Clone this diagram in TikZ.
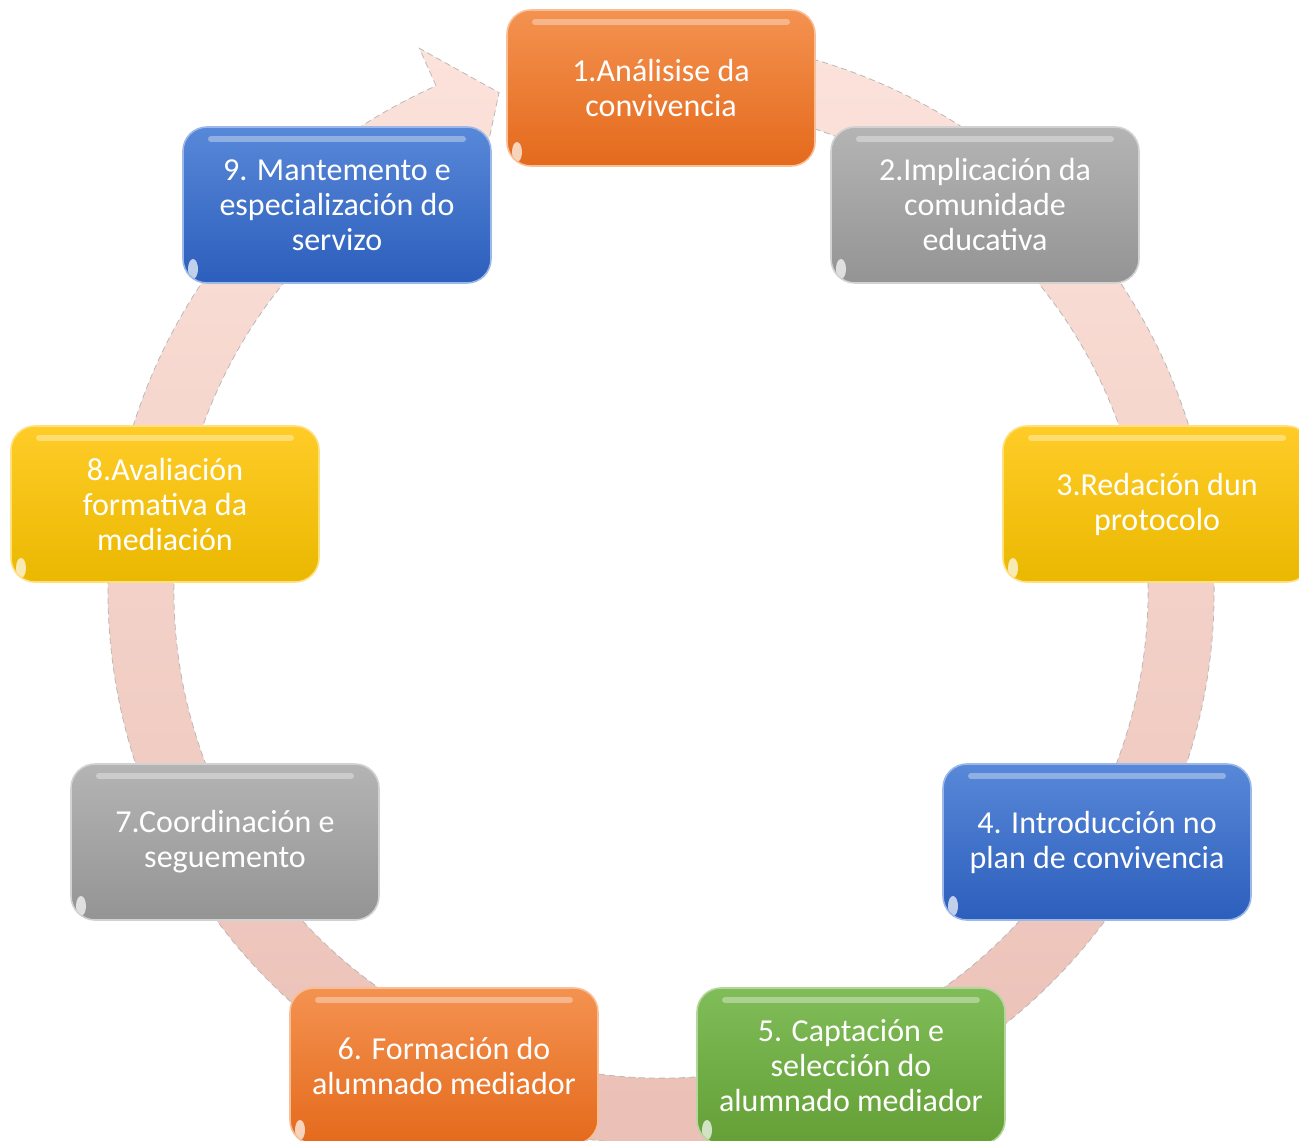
\documentclass[tikz,border=0pt]{standalone}
\usepackage{fontspec}
\setmainfont{Carlito}
\usepackage{tikz}

\definecolor{laranxaA}{RGB}{244,146,80}
\definecolor{laranxaB}{RGB}{228,106,28}
\definecolor{grisA}{RGB}{180,180,180}
\definecolor{grisB}{RGB}{148,148,148}
\definecolor{amareloA}{RGB}{255,204,40}
\definecolor{amareloB}{RGB}{234,184,0}
\definecolor{azulA}{RGB}{88,136,216}
\definecolor{azulB}{RGB}{44,94,188}
\definecolor{verdeA}{RGB}{128,188,88}
\definecolor{verdeB}{RGB}{100,160,54}
\definecolor{rosaA}{RGB}{252,228,220}
\definecolor{rosaB}{RGB}{234,190,180}

\begin{document}
\begin{tikzpicture}[x=0.5pt,y=-0.5pt,
    paso/.style={rounded corners=12pt, minimum width=154pt, minimum height=78pt,
        inner sep=2pt, align=center, text=white, line width=0.8pt,
        font=\fontsize{16}{17.5}\selectfont,
        path picture={
            \draw[white,opacity=.35,line width=3pt,line cap=round]
                ([xshift=14pt,yshift=-6pt]path picture bounding box.north west) --
                ([xshift=-14pt,yshift=-6pt]path picture bounding box.north east);
            \fill[white,opacity=.7]
                ([shift={(5pt,7pt)}]path picture bounding box.south west) ellipse (2.5pt and 5pt);
        }},
    laranxa/.style={paso, top color=laranxaA, bottom color=laranxaB, draw=laranxaA!60!white},
    gris/.style={paso, top color=grisA, bottom color=grisB, draw=grisA!60!white},
    amarelo/.style={paso, top color=amareloA, bottom color=amareloB, draw=amareloA!60!white},
    azul/.style={paso, top color=azulA, bottom color=azulB, draw=azulA!60!white},
    verde/.style={paso, top color=verdeA, bottom color=verdeB, draw=verdeA!60!white},
    banda/.style={top color=rosaA, bottom color=rosaB, draw=gray!55, densely dashed, line width=0.4pt}]

    \useasboundingbox (0,0) rectangle (1299,1140);
    \coordinate (c) at (661,591);

    % frecha do ciclo
    \path[banda] ([shift={(-100:553)}]c) arc[start angle=-100, end angle=246, radius=553]
        -- ([shift={(246:594)}]c) -- ([shift={(252:524)}]c) -- ([shift={(246:446)}]c)
        -- ([shift={(246:487)}]c) arc[start angle=246, end angle=-100, radius=487] -- cycle;

    \node[laranxa] (analise) at (661,88) {1.Análisise da\\convivencia};
    \node[gris] (implicacion) at (985,205) {2.Implicación da\\comunidade\\educativa};
    \node[amarelo] (redacion) at (1157,504) {3.Redación dun\\protocolo};
    \node[azul] (introducion) at (1097,842) {4. Introducción no\\plan de convivencia};
    \node[verde] (captacion) at (851,1066) {5. Captación e\\selección do\\alumnado mediador};
    \node[laranxa] (formacion) at (444,1066) {6. Formación do\\alumnado mediador};
    \node[gris] (coordinacion) at (225,842) {7.Coordinación e\\seguemento};
    \node[amarelo] (avaliacion) at (165,504) {8.Avaliación\\formativa da\\mediación};
    \node[azul] (mantemento) at (337,205) {9. Mantemento e\\especialización do\\servizo};
\end{tikzpicture}
\end{document}
